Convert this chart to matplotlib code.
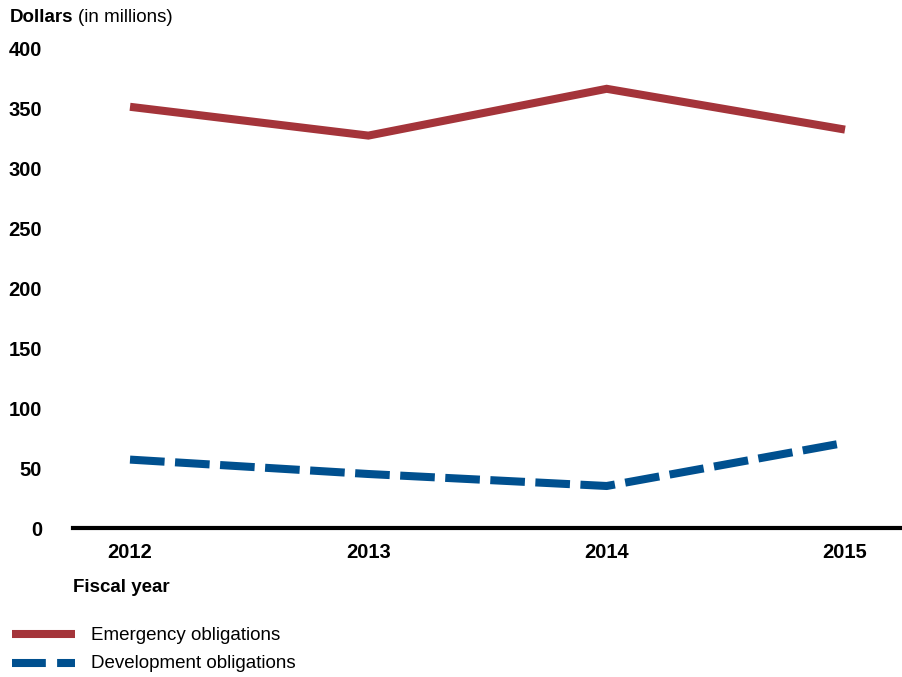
import matplotlib
matplotlib.use("Agg")
import matplotlib.pyplot as plt
from matplotlib.lines import Line2D

years = [2012, 2013, 2014, 2015]
emergency = [351, 327, 366, 332]
development = [57, 45, 35, 71]
yticks = [0, 50, 100, 150, 200, 250, 300, 350, 400]

RED = "#A4343A"
BLUE = "#00508F"
plt.rcParams['font.family'] = ['Liberation Sans', 'DejaVu Sans']

W, H = 902, 677
fig = plt.figure(figsize=(W/100, H/100), dpi=100)
ax = fig.add_axes([73/W, 1-528/H, (902-73)/W, 480/H])
lw = 5.8
ax.plot(years, emergency, color=RED, lw=lw, solid_capstyle='butt', solid_joinstyle='miter')
ax.plot(years, development, color=BLUE, lw=lw, dashes=(4.3, 1.3), dash_capstyle='butt')
ax.set_xlim(2012-57/238.3, 2015+57/238.3)
ax.set_ylim(0, 400)
for s in ['top', 'right', 'left']:
    ax.spines[s].set_visible(False)
ax.spines['bottom'].set_linewidth(3)
ax.spines['bottom'].set_color('black')
ax.set_yticks(yticks)
ax.set_yticklabels([str(v) for v in yticks], fontsize=14.5, fontweight='bold')
ax.set_xticks(years)
ax.set_xticklabels([str(y) for y in years], fontsize=14.5, fontweight='bold')
ax.tick_params(axis='y', length=0, pad=22.3)
ax.tick_params(axis='x', length=0, pad=10.5)
for lab in ax.get_yticklabels():
    lab.set_horizontalalignment('right')

fig.text(10/W, 1-17/H, "Dollars", fontsize=13.5, fontweight='bold', va='center', ha='left')
fig.text(78/W, 1-17/H, "(in millions)", fontsize=13.5, va='center', ha='left')
fig.text(73/W, 1-588/H, "Fiscal year", fontsize=13.5, fontweight='bold', va='center', ha='left')

fig.add_artist(Line2D([12/W, 75/W], [1-634/H, 1-634/H], color=RED, lw=lw, solid_capstyle='butt'))
fig.add_artist(Line2D([12/W, 75/W], [1-663/H, 1-663/H], color=BLUE, lw=lw, dashes=(4.2, 1.4), dash_capstyle='butt'))
fig.text(91/W, 1-635/H, "Emergency obligations", fontsize=13.5, va='center', ha='left')
fig.text(91/W, 1-664/H, "Development obligations", fontsize=13.5, va='center', ha='left')

fig.savefig("out.png", dpi=100)
